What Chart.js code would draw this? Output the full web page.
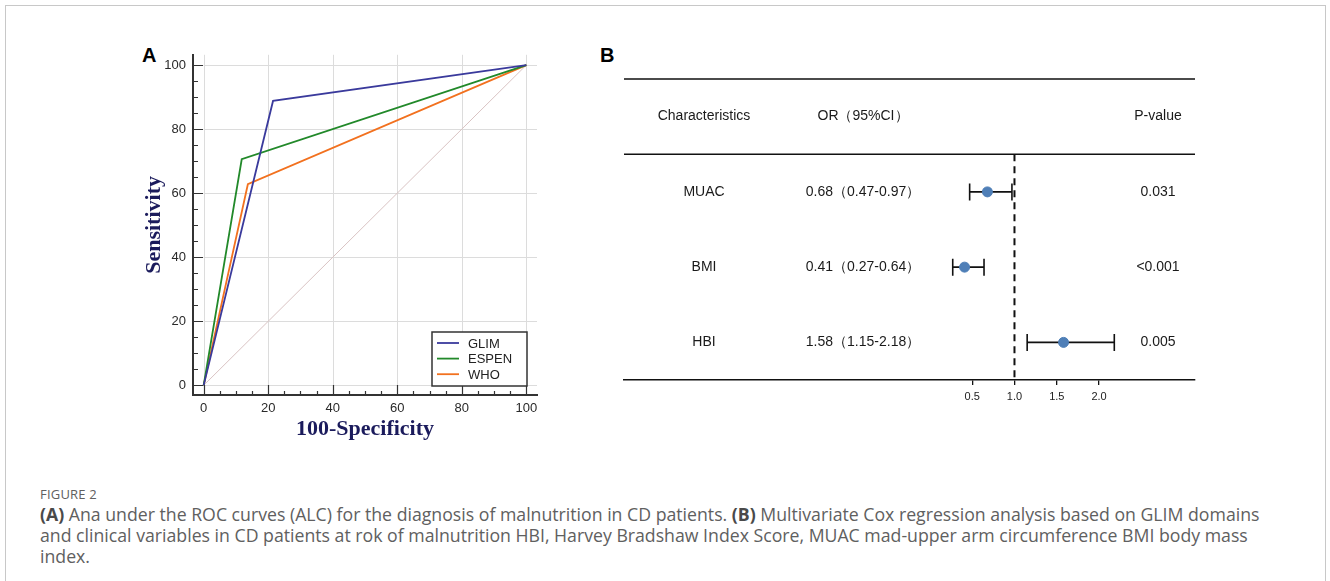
<!DOCTYPE html>
<html>
<head>
<meta charset="utf-8">
<script src="https://cdn.jsdelivr.net/npm/chart.js@4.4.1/dist/chart.umd.min.js"></script>
<style>
  body { margin: 0; background: #fff; width: 1330px; height: 581px; overflow: hidden; position: relative; }
  #frame { position: absolute; left: 5px; top: 5px; width: 1319px; height: 620px; border: 1px solid #c8c8c8; }
  .panel { position: absolute; }
  .tag { position: absolute; font: bold 20px "Liberation Sans", Arial, sans-serif; color: #000; line-height: 20px; }
  #caption { position: absolute; left: 40px; top: 484px; font-family: "Open Sans", Lato, sans-serif; color: #606060; white-space: nowrap; }
  #caption .fig { font-size: 13px; letter-spacing: 0.2px; line-height: 20px; }
  #caption .line { font-size: 17.7px; line-height: 21px; }
  #caption b { color: #4a4a4a; }
</style>
</head>
<body>
<div id="frame"></div>
<div class="tag" style="left:142px; top:45px;">A</div>
<div class="tag" style="left:600px; top:45px;">B</div>
<canvas id="rocChart" class="panel" width="420" height="410" style="left:130px; top:40px;"></canvas>
<canvas id="forestChart" class="panel" width="615" height="380" style="left:595px; top:40px;"></canvas>
<div id="caption">
  <div class="fig">FIGURE 2</div>
  <div class="line"><b>(A)</b> Ana under the ROC curves (ALC) for the diagnosis of malnutrition in CD patients. <b>(B)</b> Multivariate Cox regression analysis based on GLIM domains</div>
  <div class="line">and clinical variables in CD patients at rok of malnutrition HBI, Harvey Bradshaw Index Score, MUAC mad-upper arm circumference BMI body mass</div>
  <div class="line">index.</div>
</div>
<script>
// ---- panel A: ROC curves ----
const rocTicks = [0, 20, 40, 60, 80, 100];
const glimX = [0, 21.5, 100];
const glimY = [0, 88.8, 100];
const espenX = [0, 11.8, 100];
const espenY = [0, 70.6, 100];
const whoX = [0, 13.7, 100];
const whoY = [0, 62.8, 100];
const diagX = [0, 100];
const diagY = [0, 100];

// ---- panel B: forest plot ----
const rows = ['MUAC', 'BMI', 'HBI'];
const orValues = [0.68, 0.41, 1.58];
const ciLow = [0.47, 0.27, 1.15];
const ciHigh = [0.97, 0.64, 2.18];
const orText = ['0.68（0.47-0.97）', '0.41（0.27-0.64）', '1.58（1.15-2.18）'];
const pValues = ['0.031', '<0.001', '0.005'];
const forestTicks = [0.5, 1.0, 1.5, 2.0];

const pts = (xs, ys) => xs.map((v, i) => ({ x: v, y: ys[i] }));

// grid from the origin outwards, drawn under the curves
const rocGrid = {
    id: 'rocGrid',
    beforeDatasetsDraw(chart) {
        const { ctx, chartArea: a, scales: { x, y } } = chart;
        ctx.save();
        ctx.strokeStyle = '#dcdcdc';
        ctx.lineWidth = 1;
        ctx.beginPath();
        rocTicks.forEach(v => {
            const px = Math.round(x.getPixelForValue(v)) + 0.5;
            ctx.moveTo(px, y.getPixelForValue(0));
            ctx.lineTo(px, a.top);
            const py = Math.round(y.getPixelForValue(v)) + 0.5;
            ctx.moveTo(x.getPixelForValue(0), py);
            ctx.lineTo(a.right, py);
        });
        ctx.stroke();
        ctx.restore();
    }
};

// inward tick marks (major every 20, minor every 5) and the legend box
const rocDecor = {
    id: 'rocDecor',
    afterDraw(chart) {
        const { ctx, chartArea: a, scales: { x, y } } = chart;
        ctx.save();
        ctx.strokeStyle = '#333';
        ctx.lineWidth = 1.2;
        ctx.beginPath();
        for (let v = 0; v <= 100; v += 5) {
            const major = v % 20 === 0;
            const px = Math.round(x.getPixelForValue(v)) + 0.5;
            ctx.moveTo(px, a.bottom);
            ctx.lineTo(px, a.bottom - (major ? 10 : 4));
            const py = Math.round(y.getPixelForValue(v)) + 0.5;
            ctx.moveTo(a.left, py);
            ctx.lineTo(a.left + (major ? 10 : 5), py);
        }
        ctx.stroke();

        // legend
        const sets = chart.data.datasets.filter(d => d.label);
        const bw = 95, bh = 54;
        const bx = a.right - 10 - bw, by = a.bottom - 9 - bh;
        ctx.fillStyle = '#fff';
        ctx.fillRect(bx, by, bw, bh);
        ctx.strokeStyle = '#333';
        ctx.lineWidth = 1.5;
        ctx.strokeRect(bx, by, bw, bh);
        ctx.font = '13px "Liberation Sans", Arial, sans-serif';
        ctx.textBaseline = 'middle';
        sets.forEach((d, i) => {
            const ly = by + 11 + i * 15.6;
            ctx.strokeStyle = d.borderColor;
            ctx.lineWidth = 1.8;
            ctx.beginPath();
            ctx.moveTo(bx + 5, ly);
            ctx.lineTo(bx + 27, ly);
            ctx.stroke();
            ctx.fillStyle = '#222';
            ctx.fillText(d.label, bx + 36, ly + 1);
        });
        ctx.restore();
    }
};

const lineStyle = { showLine: true, pointRadius: 0, borderWidth: 1.8, fill: false, tension: 0 };

new Chart(document.getElementById('rocChart'), {
    type: 'scatter',
    data: {
        datasets: [
            { label: 'GLIM', data: pts(glimX, glimY), borderColor: '#3a3a9c', ...lineStyle },
            { label: 'ESPEN', data: pts(espenX, espenY), borderColor: '#22892a', ...lineStyle },
            { label: 'WHO', data: pts(whoX, whoY), borderColor: '#f2711f', ...lineStyle },
            { data: pts(diagX, diagY), borderColor: '#d9c3c3', showLine: true, pointRadius: 0, borderWidth: 1 }
        ]
    },
    options: {
        responsive: false,
        animation: false,
        devicePixelRatio: 1,
        layout: { padding: { left: 0, right: 13, top: 13, bottom: 0 } },
        plugins: { legend: { display: false }, tooltip: { enabled: false } },
        scales: {
            x: {
                type: 'linear',
                min: -3.3,
                max: 103.3,
                afterBuildTicks: s => { s.ticks = rocTicks.map(v => ({ value: v })); },
                afterFit: s => { s.height = 55; },
                ticks: { color: '#2a2a2a', font: { size: 13, family: '"Liberation Sans", Arial' }, padding: 6 },
                grid: { display: false, drawTicks: false },
                border: { display: true, color: '#333', width: 2 },
                title: {
                    display: true,
                    text: '100-Specificity',
                    color: '#1b1b5c',
                    font: { size: 22, weight: 'bold', family: '"Liberation Serif", "DejaVu Serif", serif' },
                    padding: { top: 0, bottom: 7 }
                }
            },
            y: {
                type: 'linear',
                min: -3,
                max: 103.2,
                afterBuildTicks: s => { s.ticks = rocTicks.map(v => ({ value: v })); },
                afterFit: s => { s.width = 63; },
                ticks: { color: '#2a2a2a', font: { size: 13, family: '"Liberation Sans", Arial' }, padding: 7 },
                grid: { display: false, drawTicks: false },
                border: { display: true, color: '#333', width: 2 },
                title: {
                    display: true,
                    text: 'Sensitivity',
                    color: '#1b1b5c',
                    font: { size: 22, weight: 'bold', family: '"Liberation Serif", "DejaVu Serif", serif' },
                    padding: { top: 11, bottom: 0 }
                }
            }
        }
    },
    plugins: [rocGrid, rocDecor]
});

// table lines, text columns and CI bars for the forest plot
const forestDecor = {
    id: 'forestDecor',
    beforeDatasetsDraw(chart) {
        const { ctx, chartArea: a, scales: { x, y } } = chart;
        ctx.save();
        ctx.strokeStyle = '#111';
        ctx.lineWidth = 1.6;
        ctx.beginPath();
        [-0.5, 0.5].forEach(v => {
            const py = y.getPixelForValue(v);
            ctx.moveTo(a.left, py);
            ctx.lineTo(a.right, py);
        });
        rows.forEach((r, i) => {
            const py = y.getPixelForValue(i + 1);
            const x0 = x.getPixelForValue(ciLow[i]);
            const x1 = x.getPixelForValue(ciHigh[i]);
            ctx.moveTo(x0, py); ctx.lineTo(x1, py);
            ctx.moveTo(x0, py - 8.5); ctx.lineTo(x0, py + 8.5);
            ctx.moveTo(x1, py - 8.5); ctx.lineTo(x1, py + 8.5);
        });
        ctx.stroke();

        ctx.fillStyle = '#1a1a1a';
        ctx.font = '14px "Liberation Sans", Arial, sans-serif';
        ctx.textAlign = 'center';
        ctx.textBaseline = 'middle';
        const colName = a.left + 80, colOr = a.left + 239, colP = a.left + 534;
        const hy = y.getPixelForValue(0);
        ctx.fillText('Characteristics', colName, hy);
        ctx.fillText('OR（95%CI）', colOr, hy);
        ctx.fillText('P-value', colP, hy);
        rows.forEach((r, i) => {
            const py = y.getPixelForValue(i + 1);
            ctx.fillText(r, colName, py);
            ctx.fillText(orText[i], colOr, py);
            ctx.fillText(pValues[i], colP, py);
        });
        ctx.restore();
    }
};

new Chart(document.getElementById('forestChart'), {
    type: 'scatter',
    data: {
        datasets: [
            {
                type: 'line',
                data: [{ x: 1, y: 0.5 }, { x: 1, y: 3.5 }],
                borderColor: '#111',
                borderWidth: 2,
                borderDash: [7, 5],
                pointRadius: 0
            },
            {
                data: orValues.map((v, i) => ({ x: v, y: i + 1 })),
                backgroundColor: '#4f7fb7',
                borderColor: '#4f7fb7',
                pointRadius: 5
            }
        ]
    },
    options: {
        responsive: false,
        animation: false,
        devicePixelRatio: 1,
        layout: { padding: { left: 29, right: 15, top: 39, bottom: 0 } },
        plugins: { legend: { display: false }, tooltip: { enabled: false } },
        scales: {
            x: {
                type: 'linear',
                min: -3.616,
                max: 3.134,
                afterBuildTicks: s => { s.ticks = forestTicks.map(v => ({ value: v })); },
                afterFit: s => { s.height = 40; },
                ticks: { color: '#222', font: { size: 11, family: '"Liberation Sans", Arial' }, padding: 5, callback: v => v.toFixed(1) },
                grid: { display: true, drawOnChartArea: false, drawTicks: true, tickLength: 5, color: '#111', lineWidth: 1.3 },
                border: { display: true, color: '#111', width: 1.6 }
            },
            y: {
                type: 'linear',
                display: false,
                reverse: true,
                min: -0.5,
                max: 3.5
            }
        }
    },
    plugins: [forestDecor]
});
</script>
</body>
</html>
